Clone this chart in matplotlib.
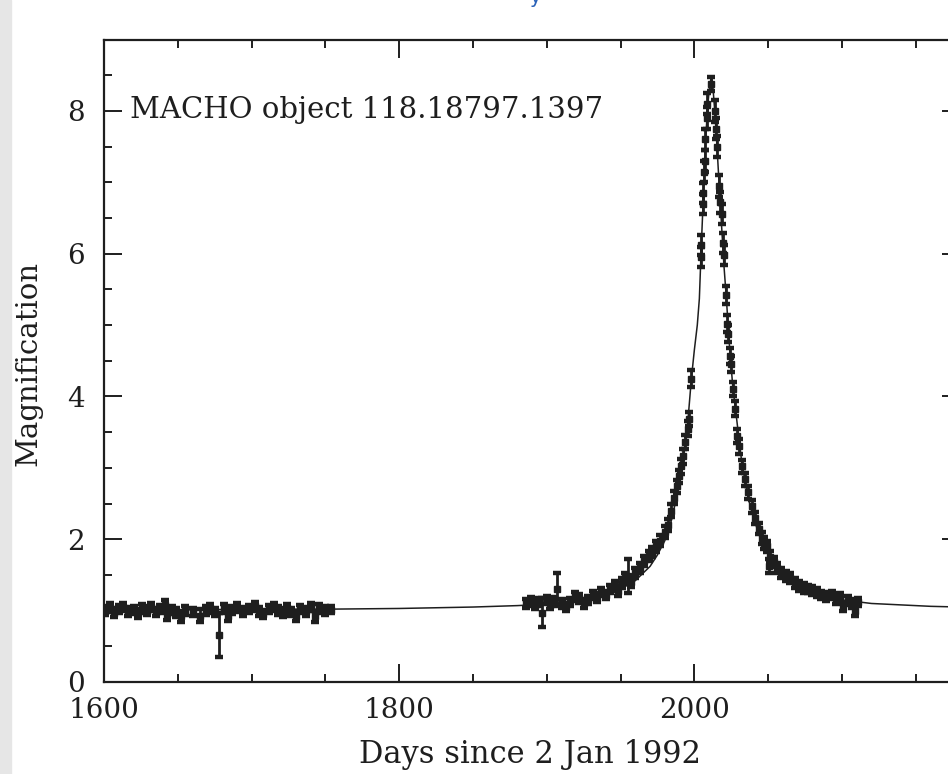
import matplotlib
matplotlib.use("Agg")
import matplotlib.pyplot as plt
from matplotlib.ticker import MultipleLocator

# first observing season (days, magnification, error)
s1_days = [1601, 1604, 1607, 1610, 1613, 1616, 1620, 1623, 1626, 1629,
           1632, 1635, 1638, 1641, 1643, 1646, 1649, 1652, 1655, 1660,
           1665, 1669, 1672, 1675, 1678, 1681, 1684, 1687, 1690, 1694,
           1698, 1702, 1705, 1708, 1712, 1715, 1718, 1721, 1724, 1727,
           1730, 1733, 1737, 1740, 1743, 1746, 1750, 1754]
s1_mag = [1.00, 1.04, 0.97, 1.02, 1.05, 0.99, 1.01, 0.96, 1.03, 1.00,
          1.05, 0.98, 1.02, 1.08, 0.95, 1.01, 0.97, 0.92, 1.00, 0.98,
          0.93, 1.00, 1.03, 0.98, 0.66, 1.03, 0.93, 1.01, 1.04, 0.99,
          1.02, 1.06, 0.99, 0.95, 1.02, 1.05, 1.00, 0.97, 1.03, 0.98,
          0.93, 1.02, 0.99, 1.05, 0.92, 1.03, 1.00, 1.01]
s1_err = [0.06, 0.06, 0.06, 0.06, 0.06, 0.06, 0.06, 0.06, 0.06, 0.06,
          0.06, 0.06, 0.06, 0.07, 0.08, 0.06, 0.06, 0.08, 0.06, 0.06,
          0.09, 0.06, 0.06, 0.06, 0.31, 0.06, 0.08, 0.06, 0.06, 0.06,
          0.06, 0.06, 0.06, 0.06, 0.06, 0.06, 0.06, 0.06, 0.06, 0.06,
          0.07, 0.06, 0.06, 0.06, 0.08, 0.06, 0.06, 0.05]

# second season, through the event
s2_days = [1886, 1889, 1892, 1895, 1897, 1900, 1902, 1905, 1907, 1910,
           1913, 1916, 1919, 1922, 1925, 1928, 1931, 1934, 1937, 1940,
           1943, 1946, 1948, 1951, 1953, 1955, 1957, 1960, 1963, 1966,
           1969, 1971, 1974, 1977, 1980, 1982, 1984, 1986, 1988, 1989.5,
           1991, 1992.5, 1994, 1995.5, 1996.2, 1998,
           2004.5, 2004.8, 2006.0, 2006.2, 2006.6, 2006.9, 2007.5, 2008.6,
           2008.9, 2011.5, 2014.2, 2014.9, 2015.1, 2016.9, 2017.6, 2019.0,
           2019.6, 2019.8, 2021.7,
           2022.4, 2022.6, 2024.4, 2025.1, 2026.4, 2027.8, 2029.2, 2030.5,
           2032.5, 2034.6, 2036.6, 2039.3, 2041.4, 2044, 2046.1, 2047.5,
           2049.5, 2050.5, 2051.5, 2054, 2056.3, 2059, 2062, 2065, 2068,
           2071, 2074, 2077, 2080, 2083, 2086, 2089, 2093, 2096, 2099,
           2101, 2104, 2107, 2109, 2111]
s2_mag = [1.10, 1.13, 1.08, 1.12, 0.97, 1.15, 1.08, 1.13, 1.30, 1.10,
          1.05, 1.12, 1.20, 1.17, 1.10, 1.15, 1.22, 1.18, 1.26, 1.22,
          1.30, 1.34, 1.28, 1.38, 1.45, 1.48, 1.40, 1.53, 1.60, 1.70,
          1.76, 1.82, 1.90, 1.98, 2.10, 2.20, 2.40, 2.58, 2.74, 2.88,
          3.02, 3.16, 3.36, 3.55, 3.68, 4.25,
          5.95, 6.12, 6.70, 6.85, 7.15, 7.30, 7.60, 7.90,
          8.10, 8.38, 8.00, 7.75, 7.50, 6.95, 6.72, 6.55,
          6.15, 5.98, 5.42,
          5.02, 4.88, 4.57, 4.45, 4.10, 3.83, 3.45, 3.30,
          3.02, 2.84, 2.66, 2.46, 2.30, 2.15, 2.02, 1.95,
          1.90, 1.62, 1.75, 1.68, 1.60, 1.52, 1.48, 1.45, 1.38,
          1.35, 1.32, 1.30, 1.28, 1.25, 1.22, 1.20, 1.22, 1.15, 1.18,
          1.05, 1.14, 1.10, 1.00, 1.12]
s2_err = [0.06, 0.06, 0.06, 0.06, 0.20, 0.06, 0.06, 0.06, 0.22, 0.06,
          0.06, 0.06, 0.06, 0.06, 0.06, 0.06, 0.06, 0.06, 0.06, 0.06,
          0.06, 0.07, 0.07, 0.07, 0.07, 0.24, 0.07, 0.07, 0.07, 0.07,
          0.07, 0.07, 0.08, 0.08, 0.08, 0.08, 0.09, 0.09, 0.09, 0.09,
          0.10, 0.10, 0.10, 0.10, 0.10, 0.12,
          0.14, 0.14, 0.14, 0.14, 0.15, 0.15, 0.15, 0.15,
          0.15, 0.10, 0.15, 0.15, 0.15, 0.15, 0.15, 0.14,
          0.14, 0.14, 0.13,
          0.12, 0.12, 0.11, 0.11, 0.10, 0.10, 0.10, 0.10,
          0.09, 0.09, 0.09, 0.09, 0.08, 0.08, 0.08, 0.08,
          0.08, 0.10, 0.08, 0.07, 0.07, 0.07, 0.07, 0.07, 0.07,
          0.07, 0.07, 0.06, 0.06, 0.06, 0.06, 0.06, 0.06, 0.06, 0.06,
          0.06, 0.06, 0.06, 0.07, 0.06]

# fitted light curve
fit_days = [1600, 1650, 1700, 1750, 1800, 1850, 1880, 1900, 1920, 1940,
            1950, 1960, 1970, 1975, 1980, 1985, 1990, 1995, 1998, 2000,
            2002, 2003.4, 2004.7, 2006, 2007, 2008, 2009, 2010, 2011,
            2011.6, 2012.3, 2013, 2014, 2015, 2017, 2019, 2020, 2021.7,
            2024, 2026, 2028, 2032, 2036, 2040, 2045, 2050, 2060, 2070,
            2080, 2090, 2100, 2120, 2140, 2160, 2180]
fit_mag = [1.01, 1.01, 1.02, 1.02, 1.03, 1.05, 1.07, 1.09, 1.13, 1.22,
           1.30, 1.42, 1.62, 1.78, 1.98, 2.30, 2.80, 3.50, 4.25, 4.65,
           5.00, 5.37, 6.10, 6.75, 7.30, 7.72, 8.05, 8.28, 8.42,
           8.46, 8.40, 8.22, 7.95, 7.62, 6.90, 6.20, 5.85, 5.37,
           4.65, 4.15, 3.80, 3.10, 2.62, 2.30, 2.00, 1.78, 1.50, 1.34,
           1.25, 1.19, 1.15, 1.10, 1.08, 1.06, 1.05]

ink = "#1e1e1e"
plt.rcParams['font.family'] = ['DejaVu Serif']

fig = plt.figure(figsize=(9.48, 7.74), dpi=100)
# grey scanner strip on the left edge, behind everything
fig.patches.append(plt.Rectangle((0, 0), 11 / 948, 1, transform=fig.transFigure,
                                 color="#e6e6e6", zorder=-5))
ax = fig.add_axes([104 / 948, 92 / 774, 856 / 948, 642.5 / 774])

ax.plot(fit_days, fit_mag, color=ink, lw=1.1, zorder=2)
for d, m, e in [(s1_days, s1_mag, s1_err), (s2_days, s2_mag, s2_err)]:
    ax.errorbar(d, m, yerr=e, fmt='s', ms=5, color=ink, ecolor=ink,
                elinewidth=2, capsize=2.8, capthick=3.2, zorder=3)

ax.set_xlim(1600, 2180)
ax.set_ylim(0, 9)
ax.xaxis.set_major_locator(MultipleLocator(200))
ax.xaxis.set_minor_locator(MultipleLocator(50))
ax.yaxis.set_major_locator(MultipleLocator(2))
ax.yaxis.set_minor_locator(MultipleLocator(0.5))
ax.tick_params(which='both', direction='in', top=True, right=True,
               colors=ink, width=1.4)
ax.tick_params(which='major', length=13)
ax.tick_params(which='minor', length=6)
ax.tick_params(axis='x', which='major', labelsize=20, pad=11)
ax.tick_params(axis='y', which='major', labelsize=20, pad=14)
for s in ax.spines.values():
    s.set_linewidth(1.6)
    s.set_color(ink)

ax.set_xlabel("Days since 2 Jan 1992", fontsize=22, color=ink)
ax.xaxis.set_label_coords(0.4977, -0.088)
ax.set_ylabel("Magnification", fontsize=21, color=ink)
ax.yaxis.set_label_coords(-0.072, 0.495)

ax.text(0.0304, 0.89, "MACHO object 118.18797.1397", transform=ax.transAxes,
        fontsize=21, color=ink, va='center', ha='left')

fig.text(535 / 948, 1 - 3 / 774, "y", color="#2a62b8", fontsize=14,
         ha='center', va='baseline', family='DejaVu Sans')

fig.savefig("out.png", dpi=100)
